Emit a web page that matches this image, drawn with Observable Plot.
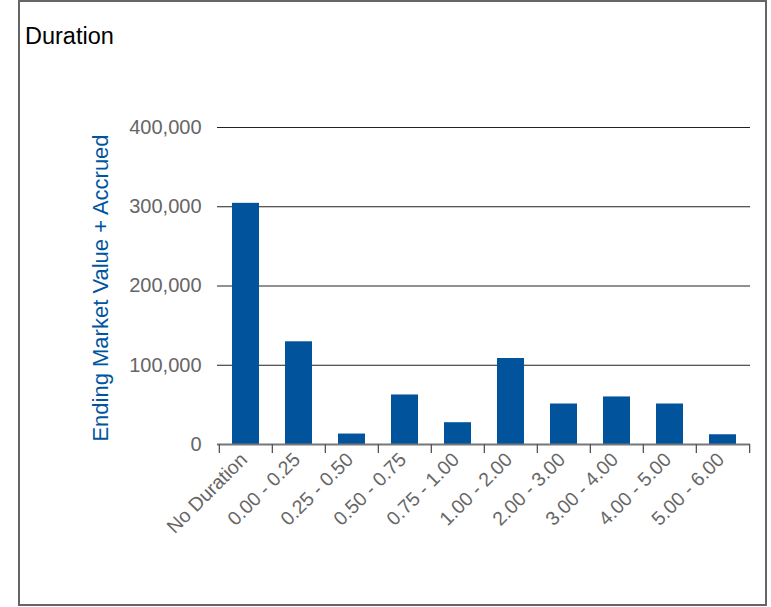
<!DOCTYPE html>
<html>
<head>
<meta charset="utf-8">
<script src="https://cdn.jsdelivr.net/npm/d3@7"></script>
<script src="https://cdn.jsdelivr.net/npm/@observablehq/plot@0.6"></script>
<style>
  html, body { margin: 0; padding: 0; background: #fff; }
  #wrap { position: relative; width: 771px; height: 607px; font-family: "Liberation Sans", Arial, sans-serif; }
  #frame { position: absolute; left: 18px; top: 0; width: 745px; height: 602px; border: 2px solid #666; box-sizing: content-box; }
  #title { position: absolute; left: 25px; top: 23px; font-size: 23.5px; color: #000; }
  #chart { position: absolute; left: 0; top: 0; }
</style>
</head>
<body>
<div id="wrap">
  <div id="frame"></div>
  <div id="title">Duration</div>
  <div id="chart"></div>
</div>
<script>
const categories = ["No Duration", "0.00 - 0.25", "0.25 - 0.50", "0.50 - 0.75", "0.75 - 1.00", "1.00 - 2.00", "2.00 - 3.00", "3.00 - 4.00", "4.00 - 5.00", "5.00 - 6.00"];
const values = [304300, 129600, 13200, 62500, 27500, 108500, 51100, 60000, 51100, 12300];
const yTicks = [0, 100000, 200000, 300000, 400000];
const yLabel = "Ending Market Value + Accrued";

const data = categories.map((c, i) => ({category: c, value: values[i]}));

const W = 771, H = 607, mL = 217, mR = 21, mT = 127, mB = 163;
const half = (W - mL - mR) / categories.length / 2;

const plot = Plot.plot({
  width: W,
  height: H,
  marginLeft: mL,
  marginRight: mR,
  marginTop: mT,
  marginBottom: mB,
  style: {fontFamily: "'Liberation Sans', Arial, sans-serif", background: "transparent", overflow: "visible"},
  x: {domain: categories, paddingInner: 0.5, paddingOuter: 0.25, align: 0.5},
  y: {domain: [0, 400000]},
  marks: [
    Plot.ruleY(yTicks.filter(d => d > 0), {stroke: "#222", strokeWidth: 1}),
    Plot.barY(data, {x: "category", y: "value", fill: "#01539c"}),
    Plot.ruleY([0], {stroke: "#777", strokeWidth: 2}),
    Plot.ruleX(categories, {x: d => d, y1: 0, y2: 0, dx: -half, stroke: "#555", strokeWidth: 1.3, insetBottom: -9}),
    Plot.ruleX([categories[categories.length - 1]], {x: d => d, y1: 0, y2: 0, dx: half, stroke: "#555", strokeWidth: 1.3, insetBottom: -9}),
    Plot.axisY({ticks: yTicks, tickFormat: d3.format(","), tickSize: 0, tickPadding: 16, fontSize: 20, fill: "#666", label: null}),
    Plot.axisX({tickSize: 0, tickRotate: -45, tickPadding: 12, dx: -2, fontSize: 19.5, fill: "#666", label: null}),
    Plot.text([yLabel], {frameAnchor: "left", dx: -117, dy: 2, rotate: -90, fontSize: 22, fill: "#0055a0", textAnchor: "middle"})
  ]
});
document.getElementById("chart").appendChild(plot);
</script>
</body>
</html>
